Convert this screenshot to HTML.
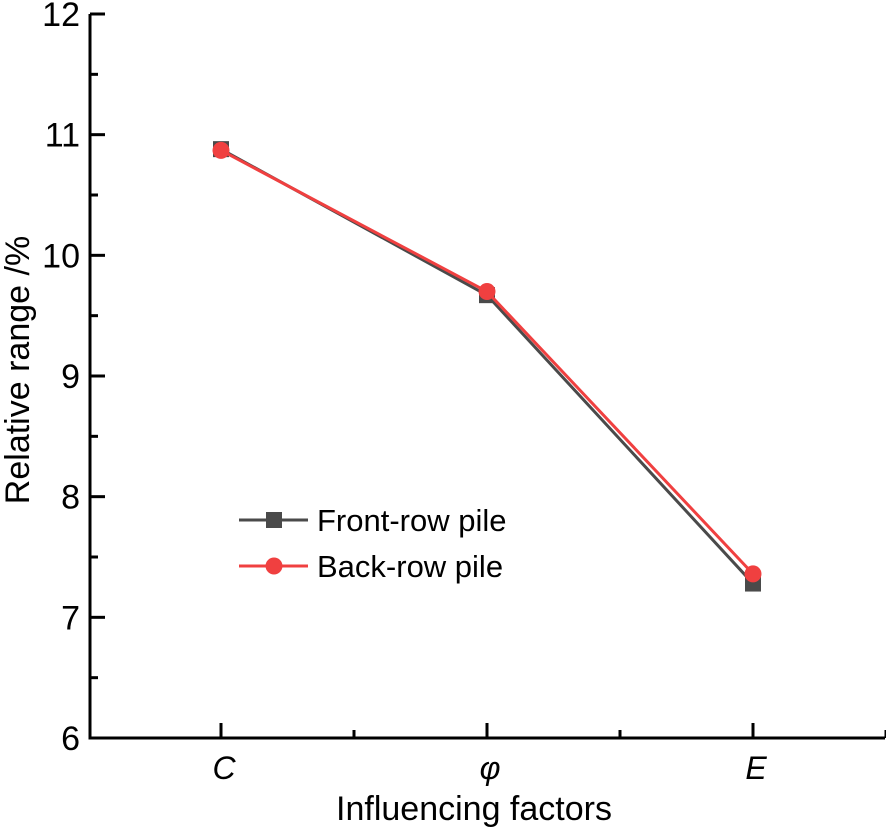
<!DOCTYPE html>
<html><head><meta charset="utf-8"><style>
body{margin:0;background:#fff;}
svg{display:block;font-family:"Liberation Sans",Arial,sans-serif;}
</style></head><body>
<svg id="chart" width="886" height="829" viewBox="0 0 886 829"></svg>
<script>
const categories = ["C", "φ", "E"];
const frontValues = [10.88, 9.67, 7.28];
const backValues = [10.87, 9.70, 7.36];
const yTicks = [6, 7, 8, 9, 10, 11, 12];

const NS = "http://www.w3.org/2000/svg";
const svg = document.getElementById("chart");
const X0 = 90, X1 = 885, Y0 = 738, Y1 = 14;
const yMin = 6, yMax = 12;
function yScale(v){ return Y0 - (v - yMin) / (yMax - yMin) * (Y0 - Y1); }
function xScale(i){ return 221 + i * 266; }
function mk(tag, attrs, parent){
  const e = document.createElementNS(NS, tag);
  for (const k in attrs) e.setAttribute(k, attrs[k]);
  (parent || svg).appendChild(e);
  return e;
}
const ya = mk("line", {x1:X0, y1:Y1, x2:X0, y2:Y0+1.5, stroke:"#000", "stroke-width":3});


const xa = mk("line", {x1:X0-1.5, y1:Y0, x2:X1, y2:Y0, stroke:"#000", "stroke-width":3});


yTicks.forEach((t, i) => {
  const y = yScale(t);
  mk("line", {x1:X0, y1:y, x2:X0+15, y2:y, stroke:"#000", "stroke-width":3});
  if (i < yTicks.length - 1) {
    const ym = yScale(t + 0.5);
    mk("line", {x1:X0, y1:ym, x2:X0+8, y2:ym, stroke:"#000", "stroke-width":3});
  }
  const lb = mk("text", {x:X0-10, y:y+12, "text-anchor":"end", "font-size":34});
  lb.textContent = t;
  
  
});
categories.forEach((c, i) => {
  const x = xScale(i);
  mk("line", {x1:x, y1:Y0, x2:x, y2:Y0-15, stroke:"#000", "stroke-width":3});
  const xm = x + 133;
  mk("line", {x1:xm, y1:Y0, x2:xm, y2:Y0-8, stroke:"#000", "stroke-width":3});
  const lb = mk("text", {x:x+3, y:779, "text-anchor":"middle", "font-size":32, "font-style":"italic"});
  lb.textContent = c;
  
  
});
const xt = mk("text", {x:474, y:820, "text-anchor":"middle", "font-size":34});
xt.textContent = "Influencing factors";


const yt = mk("text", {x:0, y:0, "text-anchor":"middle", "font-size":34, transform:"translate(29,370) rotate(-90)"});
yt.textContent = "Relative range /%";


function series(vals, color, shape, name){
  const g = mk("g", {});
  
  
  mk("polyline", {points: vals.map((v,i)=>xScale(i)+","+yScale(v)).join(" "), fill:"none", stroke:color, "stroke-width":3}, g);
  vals.forEach((v,i)=>{
    let m;
    if (shape === "square") m = mk("rect", {x:xScale(i)-8, y:yScale(v)-8, width:16, height:16, fill:color}, g);
    else m = mk("circle", {cx:xScale(i), cy:yScale(v), r:8.5, fill:color}, g);
    
    
  });
}
series(frontValues, "#4a4a4a", "square", "front-row-series");
series(backValues, "#f04040", "circle", "back-row-series");
const lg = mk("g", {});


mk("line", {x1:239, y1:520, x2:308, y2:520, stroke:"#4a4a4a", "stroke-width":3}, lg);
mk("rect", {x:266, y:512, width:16, height:16, fill:"#4a4a4a"}, lg);
const l1 = mk("text", {x:317, y:531, "font-size":31}, lg);
l1.textContent = "Front-row pile";
mk("line", {x1:239, y1:566, x2:308, y2:566, stroke:"#f04040", "stroke-width":3}, lg);
mk("circle", {cx:274, cy:566, r:8.5, fill:"#f04040"}, lg);
const l2 = mk("text", {x:317, y:577, "font-size":31}, lg);
l2.textContent = "Back-row pile";
</script>
</body></html>
